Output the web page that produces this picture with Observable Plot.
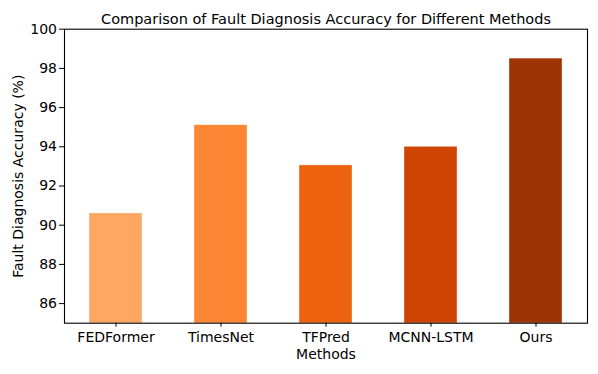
<!DOCTYPE html>
<html>
<head>
<meta charset="utf-8">
<script src="https://cdn.jsdelivr.net/npm/d3@7"></script>
<script src="https://cdn.jsdelivr.net/npm/@observablehq/plot@0.6"></script>
<style>
  html, body { margin: 0; padding: 0; background: white; }
  svg { display: block; }
</style>
</head>
<body>
<div id="chart"></div>
<script>
const methods = ["FEDFormer", "TimesNet", "TFPred", "MCNN-LSTM", "Ours"];
const accuracy = [90.6, 95.1, 93.05, 94.0, 98.5];
const barColors = ["#fda762", "#fb8634", "#ec620f", "#cf4401", "#9e3303"];
const yTicks = [86, 88, 90, 92, 94, 96, 98, 100];
const title = "Comparison of Fault Diagnosis Accuracy for Different Methods";
const xLabel = "Methods";
const yLabel = "Fault Diagnosis Accuracy (%)";

const data = methods.map((m, i) => ({ method: m, acc: accuracy[i] }));
const font = "DejaVu Sans, sans-serif";

const chart = Plot.plot({
  width: 598,
  height: 374,
  marginTop: 28.7,
  marginBottom: 51.3,
  marginLeft: 64,
  marginRight: 11,
  style: { fontFamily: font, fontSize: "14px", color: "black", background: "white" },
  x: { domain: methods, paddingInner: 0.5, paddingOuter: 0.225, label: null },
  y: { domain: [85, 100], label: null },
  color: { domain: methods, range: barColors },
  marks: [
    Plot.barY(data, { x: "method", y: "acc", fill: "method", stroke: "white", strokeWidth: 0.6, strokeOpacity: 0.6, clip: true }),
    Plot.frame({ stroke: "black", strokeWidth: 1.1 }),
    Plot.axisX({ tickSize: 4, tickPadding: 5, fontSize: 14, label: null }),
    Plot.axisY({ ticks: yTicks, tickSize: 5, tickPadding: 2.5, fontSize: 14, label: null }),
    Plot.text([title], { frameAnchor: "top", lineAnchor: "bottom", dy: -5.5, fontSize: 14.5, text: d => d }),
    Plot.text([xLabel], { frameAnchor: "bottom", lineAnchor: "bottom", dy: 35.6, fontSize: 14, text: d => d }),
    Plot.text([yLabel], { frameAnchor: "left", rotate: -90, textAnchor: "middle", lineAnchor: "middle", dx: -46, fontSize: 14, text: d => d })
  ]
});
document.getElementById("chart").appendChild(chart);
</script>
</body>
</html>
